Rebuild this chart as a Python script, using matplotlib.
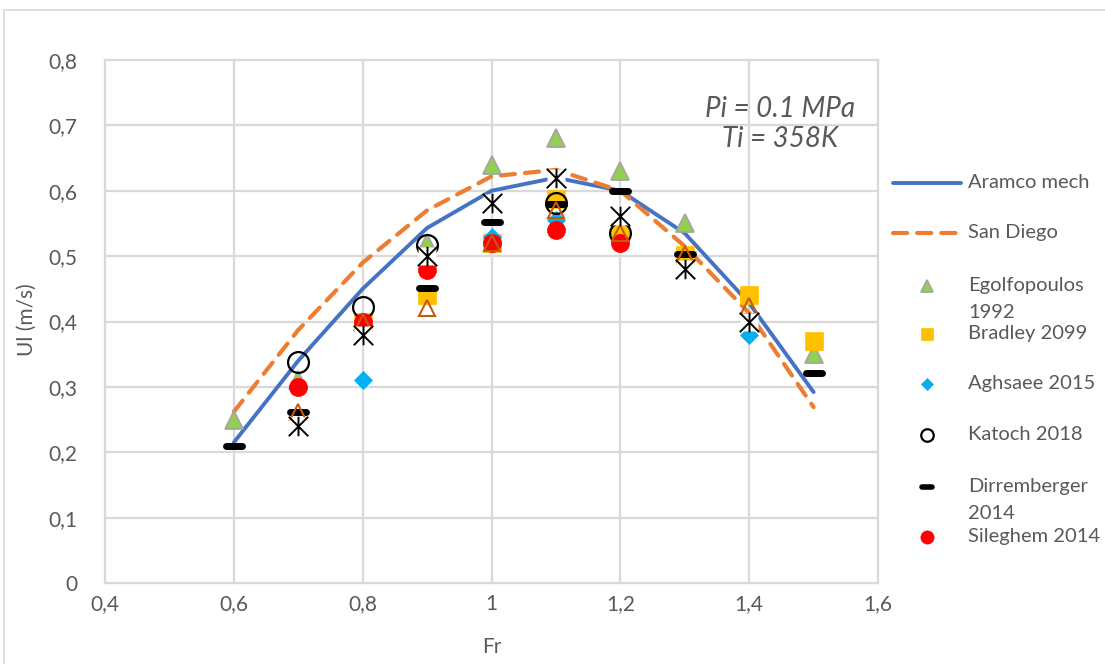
import matplotlib
matplotlib.use("Agg")
import matplotlib.pyplot as plt
from matplotlib.lines import Line2D
from matplotlib.markers import MarkerStyle
from matplotlib.path import Path
from matplotlib.patches import Rectangle

plt.rcParams["font.family"] = ["Lato", "DejaVu Sans"]

# Froude number grid used by the two mechanisms
fr = [0.6, 0.7, 0.8, 0.9, 1.0, 1.1, 1.2, 1.3, 1.4, 1.5]
aramco = [0.215, 0.34, 0.45, 0.543, 0.60, 0.62, 0.60, 0.535, 0.428, 0.292]
san_diego = [0.262, 0.387, 0.49, 0.57, 0.622, 0.632, 0.60, 0.515, 0.413, 0.269]

# Experimental data sets
ego_x = [0.6, 0.7, 0.8, 0.9, 1.0, 1.1, 1.2, 1.3, 1.5]
ego_y = [0.25, 0.31, 0.40, 0.52, 0.64, 0.68, 0.63, 0.55, 0.35]
bra_x = [0.8, 0.9, 1.0, 1.1, 1.2, 1.3, 1.4, 1.5]
bra_y = [0.40, 0.44, 0.52, 0.587, 0.537, 0.502, 0.44, 0.37]
agh_x = [0.8, 1.0, 1.1, 1.2, 1.4]
agh_y = [0.31, 0.529, 0.555, 0.52, 0.38]
kat_x = [0.7, 0.8, 0.9, 1.1, 1.2]
kat_y = [0.338, 0.422, 0.517, 0.581, 0.535]
dir_x = [0.6, 0.7, 0.9, 1.0, 1.1, 1.2, 1.3, 1.5]
dir_y = [0.21, 0.261, 0.451, 0.552, 0.58, 0.60, 0.503, 0.321]
sil_x = [0.7, 0.8, 0.9, 1.0, 1.1, 1.2]
sil_y = [0.30, 0.40, 0.479, 0.52, 0.54, 0.52]
tri_x = [0.7, 0.8, 0.9, 1.0, 1.1, 1.2, 1.3, 1.4]
tri_y = [0.262, 0.40, 0.42, 0.52, 0.57, 0.535, 0.503, 0.424]
ast_x = [0.7, 0.8, 0.9, 1.0, 1.1, 1.2, 1.3, 1.4]
ast_y = [0.24, 0.379, 0.50, 0.582, 0.62, 0.561, 0.48, 0.40]

x_ticks = [0.4, 0.6, 0.8, 1.0, 1.2, 1.4, 1.6]
x_labels = ["0,4", "0,6", "0,8", "1", "1,2", "1,4", "1,6"]
y_ticks = [0.0, 0.1, 0.2, 0.3, 0.4, 0.5, 0.6, 0.7, 0.8]
y_labels = ["0", "0,1", "0,2", "0,3", "0,4", "0,5", "0,6", "0,7", "0,8"]

TEXT = "#595959"
GRID = "#D9D9D9"
W, H = 1105, 664

fig = plt.figure(figsize=(W / 100, H / 100), dpi=100)
ax = fig.add_axes([105 / W, 1 - 583 / H, (878 - 105) / W, (583 - 60) / H])

# marker shapes
dash = MarkerStyle("_", capstyle="round")
star = Path([(-1, -1), (1, 1), (-1, 1), (1, -1), (0, -1), (0, 1)],
            [Path.MOVETO, Path.LINETO] * 3)

styles = {
    "aramco": dict(color="#4472C4", lw=2.8, solid_capstyle="round"),
    "sandiego": dict(color="#ED7D31", lw=3.0, dashes=(3.4, 2.4), dash_capstyle="round"),
    "ego": dict(marker="^", ls="none", mfc="#92D050", mec="#A5A5A5", mew=1.3),
    "bra": dict(marker="s", ls="none", mfc="#FFC000", mec="#FFC000", mew=0.5),
    "agh": dict(marker="D", ls="none", mfc="#00B0F0", mec="#00B0F0", mew=0.5),
    "kat": dict(marker="o", ls="none", mfc="none", mec="black", mew=1.6),
    "dir": dict(marker=dash, ls="none", color="black", mew=5),
    "sil": dict(marker="o", ls="none", mfc="#FF0000", mec="#FF0000", mew=0.5),
    "tri": dict(marker="^", ls="none", mfc="none", mec="#C55A11", mew=1.5),
    "ast": dict(marker=star, ls="none", mfc="none", mec="black", mew=1.4),
}

ax.plot(fr, aramco, zorder=2, **styles["aramco"])
ax.plot(fr, san_diego, zorder=2, **styles["sandiego"])
ax.plot(ego_x, ego_y, ms=13, zorder=3, **styles["ego"])
ax.plot(bra_x, bra_y, ms=13.5, zorder=4, **styles["bra"])
ax.plot(agh_x, agh_y, ms=9.5, zorder=5, **styles["agh"])
ax.plot(kat_x, kat_y, ms=15, zorder=6, **styles["kat"])
ax.plot(dir_x, dir_y, ms=11, zorder=7, **styles["dir"])
ax.plot(sil_x, sil_y, ms=13, zorder=8, **styles["sil"])
ax.plot(tri_x, tri_y, ms=12, zorder=9, **styles["tri"])
# asterisk markers sit on a white backing square
ax.plot(ast_x, ast_y, marker="s", ls="none", ms=13.5, mfc="white", mec="none", zorder=10)
ax.plot(ast_x, ast_y, ms=14, zorder=11, **styles["ast"])

ax.set_xlim(0.4, 1.6)
ax.set_ylim(0, 0.8)
ax.set_xticks(x_ticks, x_labels)
ax.set_yticks(y_ticks, y_labels)
ax.tick_params(length=0, labelsize=15, labelcolor=TEXT)
ax.tick_params(axis="y", pad=20)
ax.tick_params(axis="x", pad=8)
for s in ax.spines.values():
    s.set_visible(False)
ax.grid(True, color=GRID, lw=1.6, zorder=0)
ax.set_axisbelow(True)
for gl in ax.get_xgridlines() + ax.get_ygridlines():
    gl.set_clip_on(False)

ax.set_ylabel("Ul (m/s)", fontsize=15, color=TEXT)
ax.yaxis.set_label_coords(-0.088, 0.503)
ax.set_xlabel("Fr", fontsize=15, color=TEXT)
ax.xaxis.set_label_coords(0.5, -0.104)

fig.text(780 / W, 1 - 124 / H, "Pi = 0.1 MPa\nTi = 358K", ha="center", va="center",
         fontsize=20, style="italic", color=TEXT, linespacing=1.2)


# legend to the right of the plot area
def px(x, y):
    return x / W, 1 - y / H


legend_rows = [
    ("Aramco mech", "aramco", None, 183),
    ("San Diego", "sandiego", None, 233),
    ("Egolfopoulos\n1992", "ego", 9, 286),
    ("Bradley 2099", "bra", 9, 334),
    ("Aghsaee 2015", "agh", 6.5, 384),
    ("Katoch 2018", "kat", 9, 435),
    ("Dirremberger\n2014", "dir", 7, 487),
    ("Sileghem 2014", "sil", 9.5, 537),
]
for label, key, size, y in legend_rows:
    st = dict(styles[key])
    if size is None:
        xs, ys = zip(px(893, y), px(961, y))
        fig.add_artist(Line2D(xs, ys, transform=fig.transFigure, **st))
    else:
        if key == "dir":
            st["mew"] = 4
        x0, y0 = px(927, y)
        fig.add_artist(Line2D([x0], [y0], ms=size, transform=fig.transFigure, **st))
    tx, ty = px(968, y - 9)
    fig.text(tx, ty, label, ha="left", va="top", fontsize=14.5, color=TEXT,
             linespacing=1.7)

# thin frame around the whole chart
fig.add_artist(Rectangle(px(4, 670), (1110 - 4) / W, (670 - 10) / H,
                         transform=fig.transFigure, fill=False, ec=GRID, lw=1.2))

fig.savefig("out.png", dpi=100)
